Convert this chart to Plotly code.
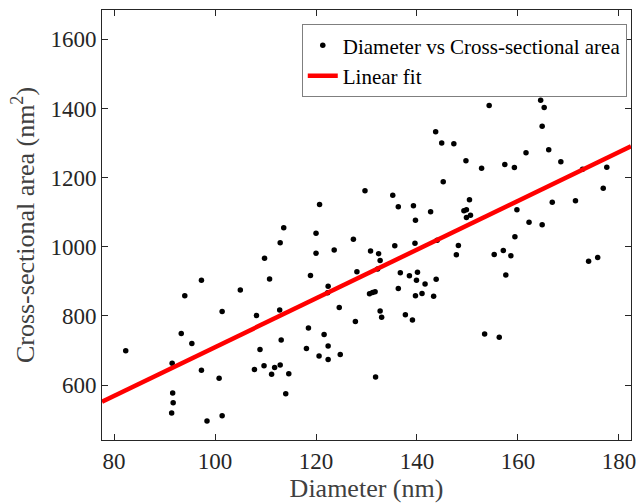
import plotly.graph_objects as go

diameter_nm = [
    82.3, 91.5, 91.6, 91.7, 91.4, 93.3, 94.0, 95.4, 97.3, 97.3,
    98.4, 101.4, 100.8, 101.4, 105.0, 108.2, 107.8, 108.9, 109.8, 109.7,
    110.8, 111.2, 111.8, 112.9, 113.6, 112.8, 113.1, 112.9, 114.0, 114.6,
    118.1, 118.5, 118.9, 120.0, 120.0, 120.7, 120.6, 121.6, 122.4, 122.4,
    122.4, 122.3, 123.6, 124.6, 124.8, 127.4, 127.8, 128.1, 129.7, 130.8,
    130.6, 131.2, 131.7, 131.8, 132.4, 132.7, 132.2, 132.7, 133.0, 135.2,
    135.6, 136.3, 136.3, 136.7, 137.7, 138.5, 139.1, 139.3, 139.6, 139.7,
    139.7, 139.9, 140.1, 141.0, 141.6, 142.7, 143.3, 143.7, 143.8, 144.0,
    144.9, 145.2, 147.3, 147.8, 148.2, 149.3, 149.8, 149.7, 149.8, 150.4,
    150.6, 152.8, 153.4, 154.3, 155.3, 156.3, 157.1, 157.4, 157.6, 158.6,
    159.3, 159.4, 159.8, 161.6, 162.2, 164.5, 164.8, 165.2, 164.8, 166.1,
    166.8, 168.5, 171.4, 172.8, 174.0, 175.8, 176.9, 177.6,
]
area_nm2 = [
    699, 663, 577, 549, 519, 749, 858, 720, 903, 643,
    496, 813, 620, 511, 875, 801, 645, 703, 967, 656,
    907, 631, 651, 1012, 1055, 817, 730, 658, 575, 633,
    706, 765, 917, 981, 1039, 1122, 684, 746, 713, 674,
    886, 867, 991, 824, 688, 1022, 784, 928, 1162, 988,
    864, 868, 870, 623, 980, 960, 936, 814, 796, 1149,
    1003, 1116, 879, 925, 803, 916, 788, 1119, 1010, 1077,
    858, 903, 926, 865, 892, 1101, 857, 1333, 906, 1019,
    1300, 1188, 1298, 977, 1004, 1104, 1107, 1249, 1085, 1136,
    1091, 1227, 748, 1409, 978, 738, 989, 1238, 918, 974,
    1229, 1029, 1107, 1272, 1071, 1424, 1349, 1403, 1064, 1281,
    1129, 1246, 1133, 1224, 958, 969, 1169, 1230,
]

fit_x = [77.6, 182.4]
fit_y = [551.6, 1290.7]

x_ticks = [80, 100, 120, 140, 160, 180]
y_ticks = [600, 800, 1000, 1200, 1400, 1600]

FONT = "Liberation Serif"
INK = "#262626"

fig = go.Figure()
fig.add_trace(go.Scatter(
    x=diameter_nm, y=area_nm2, mode="markers",
    name="Diameter vs Cross-sectional area",
    marker=dict(color="black", size=5.5),
))
fig.add_trace(go.Scatter(
    x=fit_x, y=fit_y, mode="lines", name="Linear fit",
    line=dict(color="#ff0000", width=4.5),
))

axis_common = dict(
    showgrid=False, zeroline=False, showline=True, linecolor=INK, linewidth=1,
    mirror="ticks", ticks="inside", ticklen=6, tickcolor=INK, tickwidth=1,
    tickfont=dict(family=FONT, size=23, color=INK),
)

fig.update_layout(
    width=643, height=504,
    margin=dict(l=102, r=7, t=10, b=64),
    plot_bgcolor="white", paper_bgcolor="white",
    font=dict(family=FONT, color=INK),
    showlegend=True,
    legend=dict(
        x=0.992, y=0.967, xanchor="right", yanchor="top",
        bgcolor="white", bordercolor="#7f7f7f", borderwidth=1,
        font=dict(family=FONT, size=21, color="black"),
        tracegroupgap=0, itemwidth=30,
    ),
    xaxis=dict(
        range=[77.6, 182.4], tickvals=x_ticks,
        title=dict(text="Diameter (nm)", font=dict(family=FONT, size=26, color="#404040"), standoff=2),
        **axis_common,
    ),
    yaxis=dict(
        range=[441, 1685], tickvals=y_ticks,
        title=dict(text="Cross-sectional area (nm<sup>2</sup>)", font=dict(family=FONT, size=26, color="#404040"), standoff=8),
        **axis_common,
    ),
)

fig.write_html("out.html")
